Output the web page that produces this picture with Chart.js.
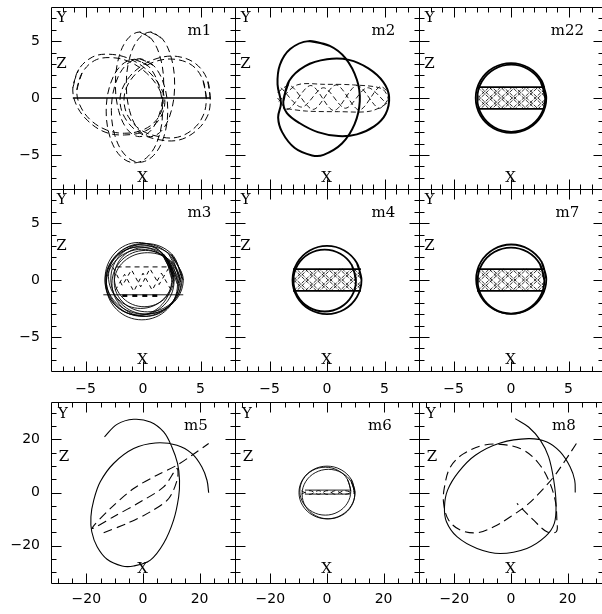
<!DOCTYPE html>
<html>
<head>
<meta charset="utf-8">
<script src="https://cdn.jsdelivr.net/npm/chart.js@4.4.1/dist/chart.umd.min.js"></script>
<style>
  html, body { margin: 0; padding: 0; background: #fff; overflow: hidden; width: 602px; height: 614px; }
  canvas { position: absolute; }
</style>
</head>
<body>
<script>
// axis ranges and tick labels
const smallRange = 8;
const bigRangeX = 32.5;
const bigRangeY = 34;
const smallTickLabels = [-5, 0, 5];
const bigTickLabels = [-20, 0, 20];
const panelNames = ["m1", "m2", "m22", "m3", "m4", "m7", "m5", "m6", "m8"];

// ---- m1 ----
const m1Bar = [[-6.1, 0], [5.85, 0]];
const m1LobeLeft = [[-6.1,0.9],[-5.6,2.5],[-4.4,3.6],[-3.0,3.85],[-1.3,3.5],[0.3,2.5],[1.5,1.0],[1.9,-0.4],[1.4,-1.9],[0.2,-2.9],[-1.6,-3.25],[-3.3,-3.0],[-4.8,-2.0],[-5.8,-0.6],[-6.1,0.9]];
const m1LobeLeft2 = [[-5.75,0.7],[-5.3,2.2],[-4.2,3.3],[-2.8,3.55],[-1.2,3.2],[0.3,2.2],[1.4,0.8],[1.75,-0.5],[1.2,-1.9],[0.0,-2.8],[-1.6,-3.1],[-3.2,-2.8],[-4.6,-1.9],[-5.5,-0.6],[-5.75,0.7]];
const m1LobeRight = [[5.85,-0.1],[5.6,1.6],[4.6,3.0],[3.0,3.65],[1.3,3.5],[-0.3,2.7],[-1.5,1.4],[-2.0,-0.1],[-1.6,-1.7],[-0.4,-3.0],[1.3,-3.65],[3.1,-3.7],[4.6,-2.9],[5.6,-1.6],[5.85,-0.1]];
const m1LobeRight2 = [[5.5,0.0],[5.2,1.6],[4.3,2.85],[2.8,3.4],[1.2,3.25],[-0.2,2.5],[-1.25,1.3],[-1.65,-0.1],[-1.3,-1.6],[-0.2,-2.8],[1.4,-3.4],[3.0,-3.45],[4.4,-2.7],[5.25,-1.5],[5.5,0.0]];
const m1LobeTop = [[-0.3,5.8],[0.75,5.18],[1.52,3.5],[1.8,1.2],[1.52,-1.1],[0.75,-2.78],[-0.3,-3.4],[-1.35,-2.78],[-2.12,-1.1],[-2.4,1.2],[-2.12,3.5],[-1.35,5.18],[-0.3,5.8]];
const m1LobeTop2 = [[0.65,5.8],[1.7,5.18],[2.47,3.5],[2.75,1.2],[2.47,-1.1],[1.7,-2.78],[0.65,-3.4],[-0.4,-2.78],[-1.17,-1.1],[-1.45,1.2],[-1.17,3.5],[-0.4,5.18],[0.65,5.8]];
const m1LobeBottom = [[-0.75,3.4],[0.48,2.79],[1.37,1.13],[1.7,-1.15],[1.37,-3.43],[0.48,-5.09],[-0.75,-5.7],[-1.98,-5.09],[-2.87,-3.43],[-3.2,-1.15],[-2.87,1.13],[-1.98,2.79],[-0.75,3.4]];
const m1LobeBottom2 = [[-0.3,3.45],[0.93,2.84],[1.82,1.18],[2.15,-1.1],[1.82,-3.38],[0.93,-5.04],[-0.3,-5.65],[-1.53,-5.04],[-2.42,-3.38],[-2.75,-1.1],[-2.42,1.18],[-1.53,2.84],[-0.3,3.45]];

// ---- m2 ----
const m2Tall = [[-1.6,5.0],[0.2,4.6],[1.6,3.5],[2.6,1.6],[2.85,-0.3],[2.4,-2.3],[1.3,-4.0],[-0.3,-5.0],[-1.3,-5.05],[-2.8,-4.4],[-3.9,-3.0],[-4.25,-1.7],[-4.0,-0.45],[-4.3,1.2],[-4.1,2.9],[-3.2,4.3],[-1.6,5.0]];
const m2Wide = [[-3.8,-0.3],[-3.3,1.5],[-1.9,2.8],[0.0,3.4],[1.9,3.35],[3.6,2.6],[4.9,1.4],[5.4,0.1],[5.1,-1.4],[4.1,-2.5],[2.6,-3.2],[1.0,-3.35],[-0.8,-3.0],[-2.4,-2.2],[-3.5,-1.3],[-3.8,-0.3]];
const m2Weave1 = [[-4.3,0.5],[-3.2,1.1],[-1.2,-1.0],[0.8,1.15],[2.8,-1.05],[4.6,1.0],[5.4,0.2],[4.5,-0.9],[2.6,1.1],[0.6,-1.1],[-1.4,1.1],[-3.4,-1.0],[-4.3,0.0]];
const m2Weave2 = [[-4.2,-0.3],[-2.6,1.15],[-0.2,1.2],[2.3,1.15],[4.8,0.8],[5.3,-0.3],[3.8,-1.15],[1.0,-1.2],[-1.8,-1.15],[-3.8,-0.9]];
const m2Weave3 = [[-4.0,0.9],[-2.2,-0.8],[-0.3,0.9],[1.6,-0.9],[3.5,0.9],[5.2,-0.5]];

// ---- shared band hatching (m22, m4, m7) ----
const bandEdgeTop = [[-2.95,0.95],[2.95,0.95]];
const bandEdgeBottom = [[-2.95,-0.95],[2.95,-0.95]];
const bandHatch = [
  [[-2.9,0.95],[-0.9,-0.95],[1.1,0.95],[2.9,-0.76]],
  [[-2.9,0],[-1.9,0.95],[0.1,-0.95],[2.1,0.95],[2.9,0.19]],
  [[-2.9,-0.95],[-0.9,0.95],[1.1,-0.95],[2.9,0.76]],
  [[-2.9,0],[-1.9,-0.95],[0.1,0.95],[2.1,-0.95],[2.9,-0.19]],
  [[-2.9,0.71],[-2.65,0.95],[-0.65,-0.95],[1.35,0.95],[2.9,-0.52]],
  [[-2.9,-0.24],[-1.65,0.95],[0.35,-0.95],[2.35,0.95],[2.9,0.43]],
  [[-2.9,-0.71],[-2.65,-0.95],[-0.65,0.95],[1.35,-0.95],[2.9,0.52]],
  [[-2.9,0.24],[-1.65,-0.95],[0.35,0.95],[2.35,-0.95],[2.9,-0.43]]
];

// ---- m22 ----
const m22Ring1 = [[3.07,0],[2.659,1.535],[1.535,2.659],[0,3.07],[-1.535,2.659],[-2.659,1.535],[-3.07,0],[-2.659,-1.535],[-1.535,-2.659],[0,-3.07],[1.535,-2.659],[2.659,-1.535],[3.07,0]];
const m22Ring2 = [[2.97,-0.02],[2.575,1.455],[1.495,2.535],[0.02,2.93],[-1.455,2.535],[-2.535,1.455],[-2.93,-0.02],[-2.535,-1.495],[-1.455,-2.575],[0.02,-2.97],[1.495,-2.575],[2.575,-1.495],[2.97,-0.02]];

// ---- m3 ----
const m3Loops = [
  [[3.2,0],[2.26,2.26],[0,3.2],[-2.26,2.26],[-3.2,0],[-2.26,-2.26],[0,-3.2],[2.26,-2.26],[3.2,0]],
  [[3.4,0.1],[2.49,2.29],[0.3,3.2],[-1.89,2.29],[-2.8,0.1],[-1.89,-2.09],[0.3,-3.0],[2.49,-2.09],[3.4,0.1]],
  [[2.7,-0.1],[1.82,2.02],[-0.3,2.9],[-2.42,2.02],[-3.3,-0.1],[-2.42,-2.22],[-0.3,-3.1],[1.82,-2.22],[2.7,-0.1]],
  [[3.1,-0.3],[2.25,1.75],[0.2,2.6],[-1.85,1.75],[-2.7,-0.3],[-1.85,-2.35],[0.2,-3.2],[2.25,-2.35],[3.1,-0.3]],
  [[2.6,0.3],[1.78,2.28],[-0.2,3.1],[-2.18,2.28],[-3.0,0.3],[-2.18,-1.68],[-0.2,-2.5],[1.78,-1.68],[2.6,0.3]],
  [[3.3,-0.2],[2.45,1.64],[0.4,2.4],[-1.65,1.64],[-2.5,-0.2],[-1.65,-2.04],[0.4,-2.8],[2.45,-2.04],[3.3,-0.2]],
  [[2.5,0.1],[1.65,2.36],[-0.4,3.3],[-2.45,2.36],[-3.3,0.1],[-2.45,-2.16],[-0.4,-3.1],[1.65,-2.16],[2.5,0.1]],
  [[2.7,0.25],[1.94,2.09],[0.1,2.85],[-1.74,2.09],[-2.5,0.25],[-1.74,-1.59],[0.1,-2.35],[1.94,-1.59],[2.7,0.25]],
  [[3.0,-0.4],[2.09,1.79],[-0.1,2.7],[-2.29,1.79],[-3.2,-0.4],[-2.29,-2.59],[-0.1,-3.5],[2.09,-2.59],[3.0,-0.4]],
  [[3.5,0],[2.52,2.12],[0.15,3.0],[-2.22,2.12],[-3.2,0],[-2.22,-2.12],[0.15,-3.0],[2.52,-2.12],[3.5,0]]
];
const m3Zig1 = [[-2.6,1.1],[-1.8,-0.5],[-1.0,0.9],[-0.2,-0.6],[0.6,1.0],[1.4,-0.4],[2.2,1.0]];
const m3Zig2 = [[-2.4,-0.9],[-1.6,0.5],[-0.8,-1.0],[0,0.6],[0.8,-0.9],[1.6,0.6],[2.4,-0.8]];
const m3Roof = [[-2.3,1.15],[2.1,1.15]];
const m3Floor = [[-3.45,-1.3],[3.5,-1.3]];
const m3FloorDash = [[-1.8,-1.38],[1.6,-1.38]];

// ---- m4 ----
const m4Ring1 = [[3,0],[2.6,1.5],[1.5,2.6],[0,3],[-1.5,2.6],[-2.6,1.5],[-3,0],[-2.6,-1.5],[-1.5,-2.6],[0,-3],[1.5,-2.6],[2.6,-1.5],[3,0]];
const m4Ring2 = [[2.52,-0.05],[2.156,1.31],[1.16,2.306],[-0.2,2.67],[-1.56,2.306],[-2.556,1.31],[-2.92,-0.05],[-2.556,-1.41],[-1.56,-2.406],[-0.2,-2.77],[1.16,-2.406],[2.156,-1.41],[2.52,-0.05]];

// ---- m7 ----
const m7Ring1 = [[3.07,0.07],[2.661,1.595],[1.545,2.711],[0.02,3.12],[-1.505,2.711],[-2.621,1.595],[-3.03,0.07],[-2.621,-1.455],[-1.505,-2.571],[0.02,-2.98],[1.545,-2.571],[2.661,-1.455],[3.07,0.07]];
const m7Ring2 = [[2.9,-0.05],[2.511,1.4],[1.45,2.461],[0,2.85],[-1.45,2.461],[-2.511,1.4],[-2.9,-0.05],[-2.511,-1.5],[-1.45,-2.561],[0,-2.95],[1.45,-2.561],[2.511,-1.5],[2.9,-0.05]];

// ---- m5 ----
const m5Solid = [[-13.6,20.9],[-9.2,25.6],[-3.3,27.5],[2.6,26.5],[7.3,22.75],[10.2,17.1],[12.2,10.9],[12.9,4.6],[12.6,-1.6],[10.8,-10.4],[7.3,-19.1],[2.6,-25.4],[-3.3,-27.6],[-7.4,-27.6],[-12.7,-25.1],[-16.2,-20.4],[-18.1,-14.75],[-18.4,-9.1],[-17.4,-2.9],[-15.1,4.0],[-10.4,10.9],[-3.3,16.5],[4.35,18.6],[12.0,17.75],[17.3,14.6],[20.8,9.6],[22.6,4.6],[23.2,-0.1]];
const m5Dashed = [[-13.9,-15.1],[-5.6,-11.6],[2.6,-7.25],[9.1,-2.25],[12.2,5.25],[12.0,9.0],[7.3,2.1],[-0.9,-3.5],[-10.4,-9.1],[-18.0,-13.5],[-11.5,-6.0],[-3.3,1.5],[4.9,6.5],[12.0,10.25],[17.3,14.0],[23.2,18.4]];

// ---- m6 ----
const m6Ring1 = [[9.9,0],[8.57,4.95],[4.95,8.57],[0,9.9],[-4.95,8.57],[-8.57,4.95],[-9.9,0],[-8.57,-4.95],[-4.95,-8.57],[0,-9.9],[4.95,-8.57],[8.57,-4.95],[9.9,0]];
const m6Ring2 = [[8.4,0.5],[7.19,5.0],[3.9,8.29],[-0.6,9.5],[-5.1,8.29],[-8.39,5.0],[-9.6,0.5],[-8.39,-4.0],[-5.1,-7.29],[-0.6,-8.5],[3.9,-7.29],[7.19,-4.0],[8.4,0.5]];
const m6Ring3 = [[9.8,-0.6],[8.55,4.05],[5.15,7.45],[0.5,8.7],[-4.15,7.45],[-7.55,4.05],[-8.8,-0.6],[-7.55,-5.25],[-4.15,-8.65],[0.5,-9.9],[5.15,-8.65],[8.55,-5.25],[9.8,-0.6]];
const m6Weave1 = [[-9,0.6],[-6,-0.7],[-3,0.7],[0,-0.7],[3,0.7],[6,-0.7],[9.5,0.3]];
const m6Weave2 = [[-9,-0.6],[-6,0.7],[-3,-0.7],[0,0.7],[3,-0.7],[6,0.7],[9.5,-0.3]];
const m6Edge1 = [[-7.8,0.9],[8.1,0.9]];
const m6Edge2 = [[-7.8,-0.6],[8.1,-0.6]];

// ---- m8 ----
const m8Solid = [[1.5,27.75],[6.2,24.6],[10.4,19.6],[13.3,13.4],[15.1,4.6],[15.9,-4.1],[15.3,-11.6],[12.1,-16.6],[5.6,-21],[-3.8,-22.9],[-12,-21],[-19.1,-16.6],[-22.8,-11],[-23.5,-5.4],[-22.4,0.9],[-18.5,7.75],[-12.6,14],[-3.8,18.6],[6.2,20.25],[12.7,19],[17.4,15.25],[20.9,9.6],[22.5,4.6],[22.7,0]];
const m8Dashed = [[23.1,18.4],[19.2,12.1],[15.1,5.9],[10.4,0.25],[5.6,-4.75],[-0.2,-9.1],[-6.1,-12.9],[-12,-15.1],[-17.9,-14.1],[-22,-10.4],[-23.8,-4.1],[-23.5,2.1],[-21.4,9.6],[-16.7,14.6],[-9.6,17.75],[-2.6,18],[4.5,15.9],[9.8,10.9],[13.3,4.6],[15.6,-2.9],[16.2,-10.4],[16,-14.75],[12.7,-14.75],[8,-10.4],[2.1,-4.1]];

// ---- styles ----
const dashTop = [7, 4];
const dashBig = [9, 5];
const hatchDash = [4, 1.5];

function curve(pts, width, dash, tension) {
  return {
    data: pts.map(p => ({ x: p[0], y: p[1] })),
    showLine: true,
    borderColor: "#000",
    borderWidth: width,
    borderDash: dash || [],
    tension: tension === undefined ? 0.36 : tension,
    pointRadius: 0,
    fill: false
  };
}

// closed orbit: run on past the start so the join is smooth
function loop(pts, width, dash, tension) {
  return curve(pts.concat([pts[1]]), width, dash, tension);
}

function bandSets() {
  const sets = bandHatch.map(z => curve(z, 0.8, hatchDash, 0));
  sets.push(curve(bandEdgeTop, 1.8, null, 0));
  sets.push(curve(bandEdgeBottom, 1.8, null, 0));
  return sets;
}

const panelSets = [
  [curve(m1Bar, 1.3, null, 0), loop(m1LobeLeft, 1, dashTop), loop(m1LobeLeft2, 1, dashTop),
   loop(m1LobeRight, 1, dashTop), loop(m1LobeRight2, 1, dashTop), loop(m1LobeTop, 1, dashTop),
   loop(m1LobeTop2, 1, dashTop), loop(m1LobeBottom, 1, dashTop), loop(m1LobeBottom2, 1, dashTop)],
  [loop(m2Tall, 2), loop(m2Wide, 2), curve(m2Weave1, 0.9, [5, 3], 0.3),
   curve(m2Weave2, 0.9, [5, 3], 0.3), curve(m2Weave3, 0.9, [5, 3], 0.3)],
  [loop(m22Ring1, 1.8), loop(m22Ring2, 1.8)].concat(bandSets()),
  m3Loops.map(l => loop(l, 0.9, null, 0.38)).concat([curve(m3Zig1, 1, [4, 4], 0), curve(m3Zig2, 1, [4, 4], 0),
   curve(m3Roof, 1, [5, 4], 0), curve(m3Floor, 0.9, null, 0), curve(m3FloorDash, 2.5, [5, 5], 0)]),
  [loop(m4Ring1, 1.8), loop(m4Ring2, 1.8)].concat(bandSets()),
  [loop(m7Ring1, 1.8), loop(m7Ring2, 1.8)].concat(bandSets()),
  [curve(m5Solid, 1.1), curve(m5Dashed, 1.1, dashBig, 0.3)],
  [loop(m6Ring1, 0.9), loop(m6Ring2, 0.9), loop(m6Ring3, 0.9), curve(m6Weave1, 0.9, [5, 3], 0.3),
   curve(m6Weave2, 0.9, [5, 3], 0.3), curve(m6Edge1, 0.9, null, 0), curve(m6Edge2, 0.9, null, 0)],
  [curve(m8Solid, 1.1), curve(m8Dashed, 1.1, dashBig)]
];

const fmtTick = v => (v < 0 ? "\u2212" + Math.abs(v) : String(v));

const framePlugin = {
  id: "frame",
  afterDatasetsDraw(chart, args, o) {
    const { ctx, chartArea: a } = chart;
    const sx = chart.scales.x, sy = chart.scales.y;
    const L = a.left + 0.5, R = a.right + 0.5, T = a.top + 0.5, B = a.bottom + 0.5;
    ctx.save();
    ctx.strokeStyle = "#000";
    ctx.lineWidth = 1;
    ctx.beginPath();
    ctx.rect(L, T, R - L, B - T);
    for (let v = Math.ceil(sx.min / o.step) * o.step; v < sx.max; v += o.step) {
      if (v <= sx.min) continue;
      const p = Math.round(sx.getPixelForValue(v)) + 0.5;
      const len = v % o.major === 0 ? 10 : 5;
      ctx.moveTo(p, T); ctx.lineTo(p, T + len);
      ctx.moveTo(p, B); ctx.lineTo(p, B - len);
    }
    for (let v = Math.ceil(sy.min / o.step) * o.step; v < sy.max; v += o.step) {
      if (v <= sy.min) continue;
      const p = Math.round(sy.getPixelForValue(v)) + 0.5;
      const len = v % o.major === 0 ? 10 : 5;
      ctx.moveTo(L, p); ctx.lineTo(L + len, p);
      ctx.moveTo(R, p); ctx.lineTo(R - len, p);
    }
    ctx.stroke();

    ctx.fillStyle = "#000";
    ctx.font = '15px "DejaVu Serif"';
    ctx.textAlign = "center";
    ctx.textBaseline = "middle";
    ctx.fillText("Y", a.left + o.yAt[0], a.top + o.yAt[1]);
    ctx.fillText("Z", a.left + o.zAt[0], a.top + o.zAt[1]);
    ctx.fillText("X", a.left + o.xAt[0], a.bottom + o.xAt[1]);
    ctx.fillText(o.name, a.left + o.mAt[0], a.top + o.mAt[1]);
    ctx.restore();
  }
};

const cols = [51, 235, 419];
const rows = [7, 189, 402];
const panelW = 184;
const panelH = [182, 182, 181];
const axisW = 51;
const axisH = 30;
const tickFont = { family: "DejaVu Sans", size: 14 };

panelSets.forEach((datasets, i) => {
  const col = i % 3, row = Math.floor(i / 3);
  const big = row === 2;
  const showY = col === 0, showX = row > 0;
  const w = (showY ? axisW : 0) + panelW + 2;
  const h = 1 + panelH[row] + (showX ? axisH : 2);

  const canvas = document.createElement("canvas");
  canvas.width = w;
  canvas.height = h;
  canvas.style.left = (cols[col] - (showY ? axisW : 0)) + "px";
  canvas.style.top = (rows[row] - 1) + "px";
  canvas.style.width = w + "px";
  canvas.style.height = h + "px";
  document.body.appendChild(canvas);

  const labels = big ? bigTickLabels : smallTickLabels;
  const xr = big ? bigRangeX : smallRange;
  const yr = big ? bigRangeY : smallRange;

  new Chart(canvas.getContext("2d"), {
    type: "scatter",
    data: { datasets: datasets },
    plugins: [framePlugin],
    options: {
      responsive: false,
      animation: false,
      events: [],
      devicePixelRatio: 1,
      layout: { padding: { top: 1, right: 2, left: 0, bottom: showX ? 0 : 2 } },
      plugins: {
        legend: { display: false },
        tooltip: { enabled: false },
        frame: {
          name: panelNames[i],
          step: big ? 5 : 1,
          major: big ? 20 : 5,
          yAt: big ? [12, 12] : [10.7, 11.5],
          zAt: big ? [13, 55.5] : [10.5, 57.5],
          xAt: big ? [91.7, -14] : [91.7, -10.5],
          mAt: big ? [145, 24] : [148.5, 24.5]
        }
      },
      scales: {
        x: {
          type: "linear",
          min: -xr,
          max: xr,
          display: showX,
          afterFit: s => { s.height = showX ? axisH : 0; s.paddingLeft = 0; s.paddingRight = 0; },
          afterBuildTicks: s => { s.ticks = labels.map(v => ({ value: v })); },
          grid: { display: false, drawTicks: false },
          border: { display: false },
          ticks: { color: "#000", font: tickFont, padding: big ? 8 : 10, maxRotation: 0, autoSkip: false, callback: fmtTick }
        },
        y: {
          type: "linear",
          min: -yr,
          max: yr,
          display: showY,
          afterFit: s => { s.width = showY ? axisW : 0; s.paddingTop = 0; s.paddingBottom = 0; },
          afterBuildTicks: s => { s.ticks = labels.map(v => ({ value: v })); },
          grid: { display: false, drawTicks: false },
          border: { display: false },
          ticks: { color: "#000", font: tickFont, padding: 11, autoSkip: false, callback: fmtTick }
        }
      }
    }
  });
});
</script>
</body>
</html>
